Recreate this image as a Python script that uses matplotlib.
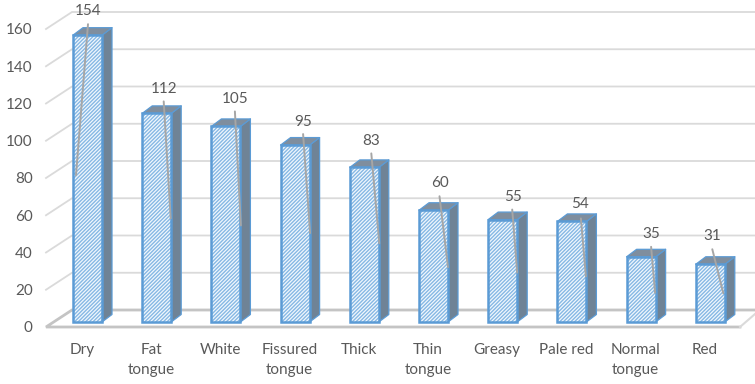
import matplotlib
matplotlib.use("Agg")
import matplotlib.pyplot as plt
from matplotlib.patches import Polygon

categories = ["Dry", "Fat\ntongue", "White", "Fissured\ntongue", "Thick",
              "Thin\ntongue", "Greasy", "Pale red", "Normal\ntongue", "Red"]
values = [154, 112, 105, 95, 83, 60, 55, 54, 35, 31]
y_ticks = [0, 20, 40, 60, 80, 100, 120, 140, 160]

W, H = 755, 384
PX_X = 69.2
PX_Y = 1.8625
CENTER0 = 87.5
LEFT = 46
BOTTOM = 327

# label placement and leader ends, in pixels relative to the bar's front-top centre
label_off = [(1, -24), (7.5, -24), (9, -27), (8, -23), (6.5, -26), (6.5, -27), (10, -23), (8, -17), (10, -23), (2, -28)]
lead_a = [(0.5, -11), (7, -12), (9, -15), (8, -11), (7, -14), (6, -14), (9.5, -10), (9, -3), (10, -10), (2, -15)]
lead_b = [(-11.5, 140), (14, 105), (15, 99), (15, 88), (15, 76), (14.5, 57), (14.5, 53), (14, 55), (14, 36), (13, 29)]

plt.rcParams["font.family"] = ["Lato", "DejaVu Sans"]
plt.rcParams["hatch.linewidth"] = 1.0
FS = 11

fig = plt.figure(figsize=(W / 100, H / 100), dpi=100)
ax = fig.add_axes([LEFT / W, 1 - BOTTOM / H, (W - LEFT) / W, BOTTOM / H])
ax.set_xlim((LEFT - CENTER0) / PX_X, (W - CENTER0) / PX_X)
ax.set_ylim(0, BOTTOM / PX_Y)
for s in ax.spines.values():
    s.set_visible(False)
ax.patch.set_visible(False)


def X(dpx):
    return dpx / PX_X


def Y(dpx):
    return dpx / PX_Y


x0 = ax.get_xlim()[0]
x1 = ax.get_xlim()[1]
wall_dx = X(26)
wall_dy = Y(17)
grid = "#DADADA"
floor = "#C4C4C4"

for v in y_ticks[1:]:
    ax.plot([x0, x0 + wall_dx, x1], [v, v + wall_dy, v + wall_dy], color=grid, lw=1.3,
            clip_on=False, zorder=1, solid_joinstyle="miter")
ax.plot([x1 - X(15), x0, x0 + wall_dx, x1], [0, 0, wall_dy, wall_dy], color=floor, lw=2,
        clip_on=False, zorder=1.5, solid_joinstyle="miter")
ax.plot([x1 - X(15), x1], [0, Y(13)], color=grid, lw=1.5, clip_on=False, zorder=1.5)

half = X(14.5)
dx = X(10)
dy = Y(7.5)
base = Y(5)
edge = "#5B9BD5"
side = "#6F8396"
top = "#7F8E9E"
for i, v in enumerate(values):
    l, r = i - half, i + half
    b, t = base, base + v
    ax.add_patch(Polygon([(r, b), (r + dx, b + dy), (r + dx, t + dy), (r, t)], closed=True,
                         facecolor=side, edgecolor=edge, lw=0.9, zorder=3, joinstyle="round"))
    ax.add_patch(Polygon([(l, t), (r, t), (r + dx, t + dy), (l + dx, t + dy)], closed=True,
                         facecolor=top, edgecolor=edge, lw=0.9, zorder=3, joinstyle="round"))
    ax.add_patch(Polygon([(l, b), (r, b), (r, t), (l, t)], closed=True, facecolor="#F2F8FD",
                         hatch="/////////", edgecolor="#86B8E4", lw=0, zorder=4))
    ax.add_patch(Polygon([(l, b), (r, b), (r, t), (l, t)], closed=True, fill=False,
                         edgecolor=edge, lw=1.8, zorder=5))
    a, c = lead_a[i], lead_b[i]
    ax.plot([i + X(a[0]), i + X(c[0])], [t + Y(-a[1]), t + Y(-c[1])], color="#A6A6A6", lw=1.4,
            zorder=6, solid_capstyle="round")
    ax.text(i + X(label_off[i][0]), t + Y(-label_off[i][1]), str(v), ha="center", va="center",
            fontsize=FS, color="#595959", zorder=7)

ax.set_yticks(y_ticks)
ax.set_xticks([i - X(5.5) for i in range(len(categories))])
ax.set_xticklabels(categories, linespacing=1.55)
ax.tick_params(axis="both", length=0, labelsize=FS, labelcolor="#595959")
ax.tick_params(axis="y", pad=9.5)
ax.tick_params(axis="x", pad=11.5)

fig.savefig("out.png", dpi=100, facecolor="white")
